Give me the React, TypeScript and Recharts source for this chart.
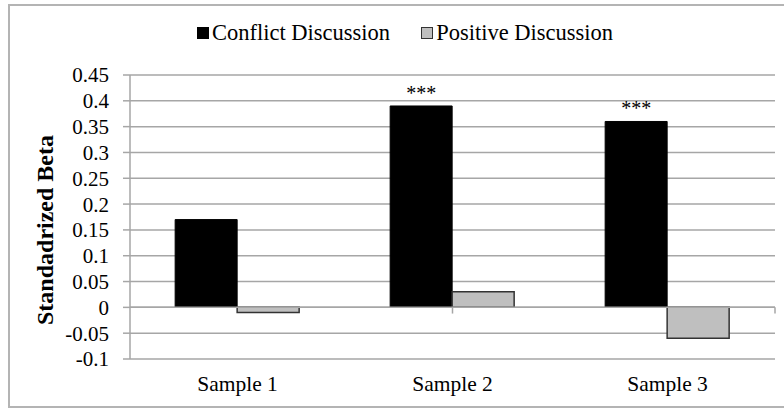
import React from "react"
import {
  Bar,
  BarChart,
  CartesianGrid,
  LabelList,
  ReferenceLine,
  XAxis,
  YAxis,
} from "recharts"

const samples = ["Sample 1", "Sample 2", "Sample 3"]
const conflict = [0.17, 0.39, 0.36]
const positive = [-0.01, 0.03, -0.06]
const stars = ["", "***", "***"]
const yTicks = [-0.1, -0.05, 0, 0.05, 0.1, 0.15, 0.2, 0.25, 0.3, 0.35, 0.4, 0.45]
const edges = [1, 2, 3]

const FONT = '"Liberation Serif", "Times New Roman", serif'
const GRID = "#a6a6a6"

const data = samples.map((name, i) => ({
  name,
  conflict: conflict[i],
  positive: positive[i],
  stars: stars[i],
}))

function YLabel({ viewBox }: any) {
  const x = viewBox.x + 45
  const y = viewBox.y + viewBox.height / 2 + 13
  return (
    <text
      x={x}
      y={y}
      transform={`rotate(-90, ${x}, ${y})`}
      textAnchor="middle"
      dominantBaseline="central"
      fontSize={24}
      fontWeight="bold"
      fontFamily={FONT}
      fill="#000"
    >
      Standadrized Beta
    </text>
  )
}

function LegendBox() {
  const item = (color: string, label: string) => (
    <span style={{ display: "inline-flex", alignItems: "center", marginRight: 31 }}>
      <span
        style={{
          display: "inline-block",
          width: 12,
          height: 12,
          background: color,
          border: color === "#000" ? "none" : "1px solid #333",
          boxSizing: "border-box",
          marginRight: 3,
        }}
      />
      <span>{label}</span>
    </span>
  )
  return (
    <div
      style={{
        position: "absolute",
        left: 197,
        top: 20,
        fontFamily: FONT,
        fontSize: 22.5,
        color: "#000",
        whiteSpace: "nowrap",
        display: "flex",
      }}
    >
      {item("#000", "Conflict Discussion")}
      {item("#bfbfbf", "Positive Discussion")}
    </div>
  )
}

export default function App() {
  return (
    <div style={{ position: "absolute", left: 0, top: 0, width: 784, height: 410, background: "#fff" }}>
      <div
        style={{
          position: "absolute",
          left: 8,
          top: 4,
          width: 800,
          height: 404,
          border: "2px solid #b4b4b4",
          boxSizing: "border-box",
        }}
      />
      <LegendBox />
      <BarChart
        width={784}
        height={410}
        data={data}
        margin={{ top: 75, right: 9, bottom: 0, left: 0 }}
        barCategoryGap="21%"
        barGap={0}
        style={{ fontFamily: FONT }}
      >
        <CartesianGrid vertical={false} stroke={GRID} strokeWidth={1.5} />
        <XAxis
          dataKey="name"
          height={51}
          axisLine={false}
          tickLine={false}
          tickSize={0}
          tickMargin={17}
          tick={{ fontSize: 21.5, fill: "#000", fontFamily: FONT }}
        />
        <XAxis xAxisId="edge" type="number" domain={[0, 3]} hide />
        <YAxis
          width={130}
          domain={[-0.1, 0.45]}
          ticks={yTicks}
          interval={0}
          tickSize={7}
          tickMargin={14}
          axisLine={{ stroke: GRID, strokeWidth: 1.5 }}
          tickLine={{ stroke: GRID, strokeWidth: 1.5 }}
          tick={{ fontSize: 21, fill: "#000", fontFamily: FONT }}
          tickFormatter={(v) => String(v)}
          label={<YLabel />}
        />
        <ReferenceLine y={0} stroke={GRID} strokeWidth={1.5} />
        {edges.map((e) => (
          <ReferenceLine
            key={e}
            xAxisId="edge"
            segment={[
              { x: e, y: 0 },
              { x: e, y: -0.012 },
            ]}
            stroke={GRID}
            strokeWidth={1.5}
          />
        ))}
        <Bar dataKey="conflict" fill="#000" stroke="#000" isAnimationActive={false}>
          <LabelList
            dataKey="stars"
            position="top"
            offset={6}
            fill="#000"
            fontSize={20}
            fontFamily={FONT}
          />
        </Bar>
        <Bar dataKey="positive" fill="#bfbfbf" stroke="#333" strokeWidth={1.5} isAnimationActive={false} />
      </BarChart>
    </div>
  )
}
